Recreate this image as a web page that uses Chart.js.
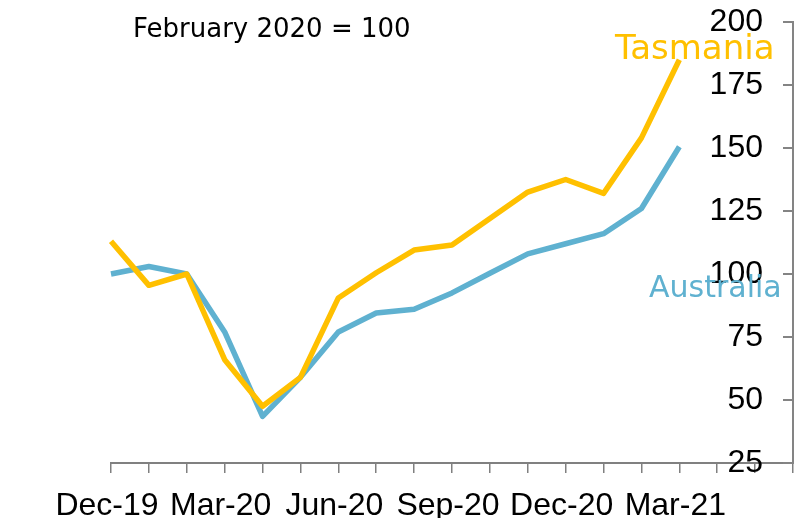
<!DOCTYPE html>
<html><head><meta charset="utf-8">
<script src="https://cdn.jsdelivr.net/npm/chart.js@4.4.1/dist/chart.umd.min.js"></script>
<style>html,body{margin:0;padding:0;background:#fff;}#wrap{width:811px;height:518px;}</style>
</head><body><div id="wrap"><canvas id="c" width="811" height="518"></canvas></div>
<script>
const months = ['Dec-19','Jan-20','Feb-20','Mar-20','Apr-20','May-20','Jun-20','Jul-20','Aug-20','Sep-20','Oct-20','Nov-20','Dec-20','Jan-21','Feb-21','Mar-21','Apr-21','May-21','Jun-21'];
const tasmania = [113, 95.5, 100, 66, 47.5, 59, 90.5, 100.5, 109.5, 111.5, 122, 132.5, 137.5, 132, 154, 185];
const australia = [100, 103, 100, 77, 43.5, 59, 77, 84.5, 86, 92.5, 100.3, 108, 112, 116, 126, 150.5];
const xTickLabels = ['Dec-19','Mar-20','Jun-20','Sep-20','Dec-20','Mar-21'];
const yTicks = [25, 50, 75, 100, 125, 150, 175, 200];
const titleText = 'February 2020 = 100';
const seriesNames = ['Tasmania', 'Australia'];

const TAS = '#FFC000';
const AUS = '#5FB1D0';
const AXIS = '#808080';
const YAXIS = '#848484';

// right-hand value axis line and inward tick marks, placed from the chart area and y scale
const yAxisPlugin = {
  id: 'yaxisline',
  afterDraw(chart) {
    const ctx = chart.ctx;
    const ys = chart.scales.y;
    const ca = chart.chartArea;
    const xr = Math.round(ca.right);
    const t = Math.round(ca.top);
    const b = Math.round(ca.bottom);
    ctx.save();
    ctx.fillStyle = YAXIS;
    ctx.fillRect(xr - 1, t - 1, 2, b - t + 2);
    yTicks.forEach(v => {
      const p = Math.round(ys.getPixelForValue(v));
      ctx.fillRect(xr - 10, p - 1, 10, 2);
    });
    ctx.restore();
  }
};

const labelPlugin = {
  id: 'labels',
  afterDraw(chart) {
    const ctx = chart.ctx;
    ctx.save();
    ctx.textBaseline = 'alphabetic';
    ctx.textAlign = 'left';
    ctx.fillStyle = '#000';
    ctx.font = '26px "DejaVu Sans"';
    ctx.fillText(titleText, 133, 37);
    ctx.fillStyle = TAS;
    ctx.font = '34px "DejaVu Sans"';
    ctx.fillText(seriesNames[0], 615, 59);
    ctx.fillStyle = AUS;
    ctx.font = '30px "DejaVu Sans"';
    ctx.fillText(seriesNames[1], 649, 297);
    ctx.restore();
  }
};

new Chart(document.getElementById('c'), {
  type: 'line',
  data: {
    labels: months,
    datasets: [
      { label: seriesNames[0], data: tasmania, borderColor: TAS, backgroundColor: TAS, borderWidth: 5.5, pointRadius: 0, tension: 0, borderJoinStyle: 'round' },
      { label: seriesNames[1], data: australia, borderColor: AUS, backgroundColor: AUS, borderWidth: 5.5, pointRadius: 0, tension: 0, borderJoinStyle: 'round' }
    ]
  },
  options: {
    responsive: false,
    animation: false,
    devicePixelRatio: 1,
    layout: { padding: { left: 111, top: 22, right: 18, bottom: 0 } },
    plugins: { legend: { display: false }, tooltip: { enabled: false }, title: { display: false } },
    scales: {
      x: {
        type: 'category',
        offset: false,
        grid: { drawOnChartArea: false, drawTicks: true, tickLength: 10, color: AXIS, lineWidth: 1.5 },
        border: { display: true, color: AXIS, width: 2 },
        ticks: {
          autoSkip: false, maxRotation: 0, minRotation: 0, padding: 14, labelOffset: -4,
          color: '#000', font: { family: '"Liberation Sans"', size: 32 },
          callback: function(v) { const l = this.getLabelForValue(v); return xTickLabels.includes(l) ? l : ''; }
        },
        afterFit: s => { s.height = 55; }
      },
      y: {
        position: 'right',
        min: yTicks[0], max: yTicks[yTicks.length - 1],
        afterBuildTicks: s => { s.ticks = yTicks.map(v => ({ value: v })); },
        grid: { display: false, drawOnChartArea: false, drawTicks: false },
        border: { display: false },
        ticks: { mirror: true, padding: -30, color: '#000', font: { family: '"Liberation Sans"', size: 32 } },
        afterFit: s => { s.width = 0; s.paddingTop = 0; s.paddingBottom = 0; }
      }
    }
  },
  plugins: [yAxisPlugin, labelPlugin]
});
</script>
</body></html>
